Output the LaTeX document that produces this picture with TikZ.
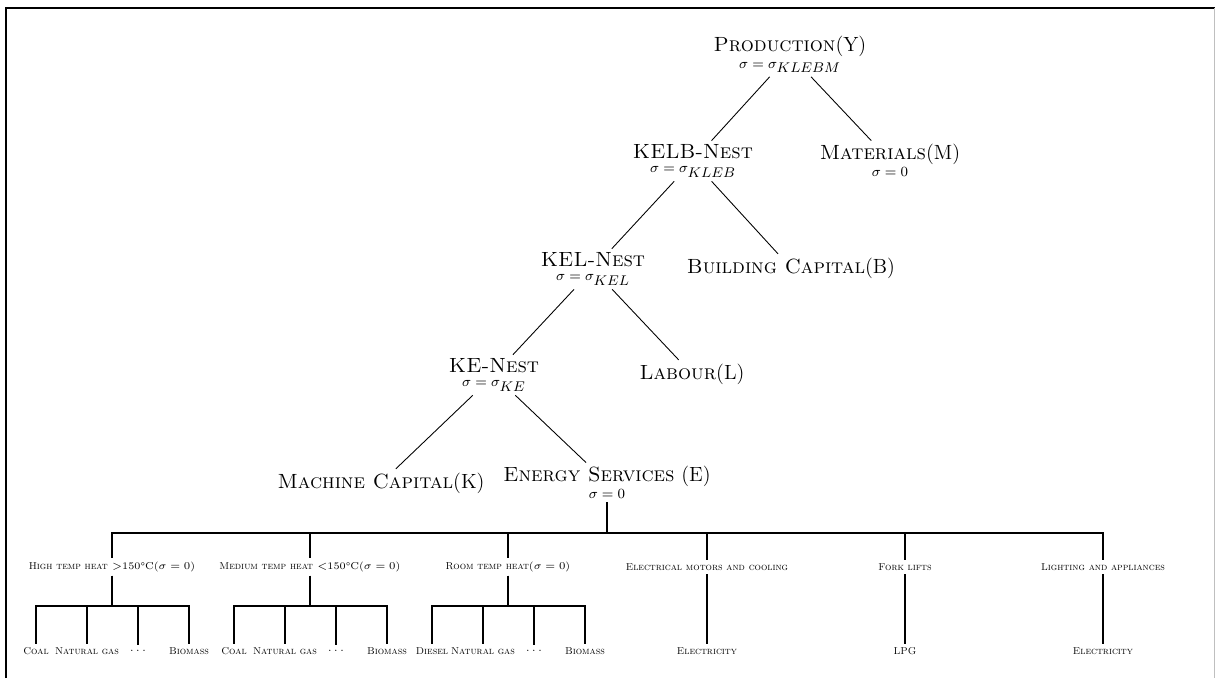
\documentclass[tikz,border=0pt]{standalone}
\newcommand{\bigfont}{\fontsize{11.7}{9.5}\selectfont}
\newcommand{\sigfont}{\fontsize{7.7}{8}\selectfont}
\newcommand{\tinyfont}{\fontsize{5.7}{7}\selectfont}
\tikzset{
  nest/.style={align=center,inner sep=2pt,font=\bigfont},
  cat/.style={inner sep=2pt,font=\tinyfont},
  tree/.style={line width=0.5pt},
  bus/.style={line width=0.9pt}
}
\begin{document}
\begin{tikzpicture}

        \useasboundingbox (0,0) rectangle (24.3,-13.56);
        \draw[line width=1.1pt] (0.12,-13.56) -- (0.12,-0.16) -- (24.3,-0.16);
        \draw[black!25] (24.28,-0.16) -- (24.28,-13.56);

        \coordinate (bus) at (0,-10.66);
        \coordinate (sub) at (0,-12.12);

        \begin{scope}[every node/.style={nest}]
          \node (1) at (15.80,-1.09) {\textsc{Production}(Y)\\{\sigfont$\sigma = \sigma_{\textstyle KLEBM}$}};
          \node (2) at (13.86,-3.22) {\textsc{KELB-Nest}\\[-1.5pt]{\sigfont$\sigma = \sigma_{\textstyle KLEB}$}};
          \node (3) at (17.80,-3.21) {\textsc{Materials}(M)\\{\sigfont$\sigma = 0$}};
          \node (4) at (11.86,-5.38) {\textsc{KEL-Nest}\\[-1.5pt]{\sigfont$\sigma = \sigma_{\textstyle KEL}$}};
          \node (5) at (15.82,-5.36) {\textsc{Building Capital}(B)};
          \node (6) at (9.88,-7.50)  {\textsc{KE-Nest}\\[-1.5pt]{\sigfont$\sigma = \sigma_{\textstyle KE}$}};
          \node (7) at (13.84,-7.48) {\textsc{Labour}(L)};
          \node (8) at (7.62,-9.66)  {\textsc{Machine Capital}(K)};
          \node (9) at (12.14,-9.65) {\textsc{Energy Services} (E)\\{\sigfont$\sigma = 0$}};
        \end{scope}

        \begin{scope}[every node/.style={cat}]
          \node (10) at (2.24,-11.34)  {\textsc{High temp heat} $>$150\textdegree C($\sigma = 0$)};
          \node (11) at (6.20,-11.34)  {\textsc{Medium temp heat} $<$150\textdegree C($\sigma = 0$)};
          \node (12) at (10.16,-11.34) {\textsc{Room temp heat}($\sigma = 0$)};
          \node (13) at (14.14,-11.34) {\textsc{Electrical motors and cooling}};
          \node (14) at (18.10,-11.34) {\textsc{Fork lifts}};
          \node (15) at (22.06,-11.34) {\textsc{Lighting and appliances}};

          \node (16) at (0.72,-13.02)  {\textsc{Coal}};
          \node (17) at (1.74,-13.02)  {\textsc{Natural gas}};
          \node (18) at (2.76,-13.02)  {$\cdots$};
          \node (19) at (3.78,-13.02)  {\textsc{Biomass}};
          \node (20) at (4.68,-13.02)  {\textsc{Coal}};
          \node (21) at (5.70,-13.02)  {\textsc{Natural gas}};
          \node (22) at (6.72,-13.02)  {$\cdots$};
          \node (23) at (7.74,-13.02)  {\textsc{Biomass}};
          \node (24) at (8.64,-13.02)  {\textsc{Diesel}};
          \node (25) at (9.66,-13.02)  {\textsc{Natural gas}};
          \node (26) at (10.68,-13.02) {$\cdots$};
          \node (27) at (11.70,-13.02) {\textsc{Biomass}};
          \node (28) at (14.14,-13.02) {\textsc{Electricity}};
          \node (29) at (18.10,-13.02) {\textsc{LPG}};
          \node (30) at (22.06,-13.02) {\textsc{Electricity}};
        \end{scope}

        \begin{scope}[every edge/.style={draw,tree}]
          \path (1) edge (2);
          \path (1) edge (3);
          \path (2) edge (4);
          \path (2) edge (5);
          \path (4) edge (6);
          \path (4) edge (7);
          \path (6) edge (8);
          \path (6) edge (9);
        \end{scope}

        \begin{scope}[bus]
          \draw (9) -- (9 |- bus) -| (10);
          \draw (9) -- (9 |- bus) -| (11);
          \draw (9) -- (9 |- bus) -| (12);
          \draw (9) -- (9 |- bus) -| (13);
          \draw (9) -- (9 |- bus) -| (14);
          \draw (9) -- (9 |- bus) -| (15);
          \draw (10) -- (10 |- sub) -| (16);
          \draw (10) -- (10 |- sub) -| (17);
          \draw (10) -- (10 |- sub) -| (18);
          \draw (10) -- (10 |- sub) -| (19);
          \draw (11) -- (11 |- sub) -| (20);
          \draw (11) -- (11 |- sub) -| (21);
          \draw (11) -- (11 |- sub) -| (22);
          \draw (11) -- (11 |- sub) -| (23);
          \draw (12) -- (12 |- sub) -| (24);
          \draw (12) -- (12 |- sub) -| (25);
          \draw (12) -- (12 |- sub) -| (26);
          \draw (12) -- (12 |- sub) -| (27);
          \draw (13) -- (28);
          \draw (14) -- (29);
          \draw (15) -- (30);
        \end{scope}

      \end{tikzpicture}
\end{document}
